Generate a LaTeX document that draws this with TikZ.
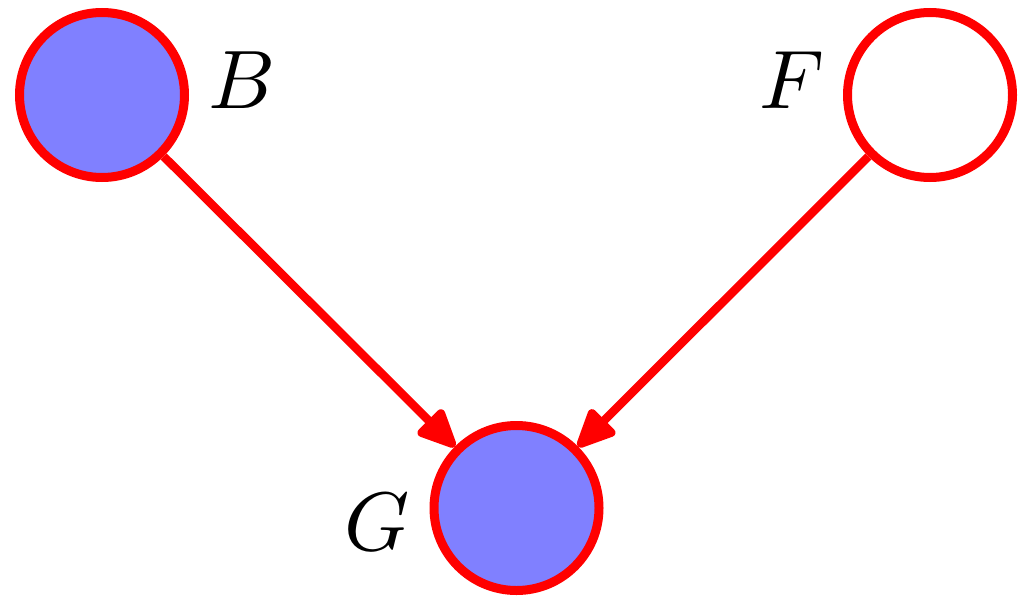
\documentclass[tikz,border=0pt]{standalone}
\usepackage{graphicx}
\usetikzlibrary{arrows.meta,backgrounds}
\definecolor{nodefill}{RGB}{128,128,255}
\newcommand{\biglbl}[1]{\scalebox{8.3}{$#1$}}
\begin{document}
\begin{tikzpicture}[x=1pt,y=-1pt,
  var/.style={circle,draw=red,line width=9pt,minimum size=165pt,inner sep=0pt},
  obs/.style={var,fill=nodefill},
  lbl/.style={inner sep=0pt},
  edge/.style={draw=red,line width=8.5pt,-{Triangle[length=44pt,width=38pt,round]}}]
\useasboundingbox (0,0) rectangle (1025,608);
\node[obs] (B) at (102,95) {};
\node[var] (F) at (930,95) {};
\node[obs] (G) at (516.5,508) {};
\node[lbl] (lB) at (242,80) {\biglbl{B}};
\node[lbl] (lF) at (792,80) {\biglbl{F}};
\node[lbl] (lG) at (377,522) {\biglbl{G}};
\begin{scope}[on background layer]
\draw[edge] (B) -- (G);
\draw[edge] (F) -- (G);
\end{scope}
\end{tikzpicture}
\end{document}
